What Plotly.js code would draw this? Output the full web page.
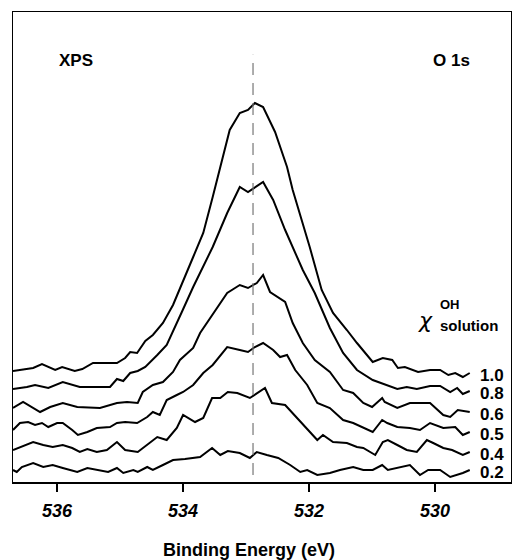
<!DOCTYPE html>
<html>
<head>
<meta charset="utf-8">
<script src="https://cdn.plot.ly/plotly-3.0.1.min.js"></script>
<style>
html,body{margin:0;padding:0;background:#fff;}
#chart{width:512px;height:560px;}
</style>
</head>
<body>
<div id="chart"></div>
<script>
// Binding energy (eV) and intensity (arb. units, already stacked) for each chi(OH, solution)
const seriesLabels = ['1.0', '0.8', '0.6', '0.5', '0.4', '0.2'];

const be10 = [536.70,536.38,536.24,536.03,535.92,535.72,535.60,535.43,535.05,534.92,534.84,534.73,534.60,534.48,534.32,534.16,533.84,533.68,533.53,533.26,533.10,532.97,532.86,532.73,532.54,532.35,532.26,531.99,531.80,531.62,531.40,531.24,530.99,530.83,530.68,530.59,530.48,530.27,530.08,529.92,529.79,529.68,529.56,529.45];
const int10 = [111,114,118,112,115,111,113,119,119,124,130,129,141,147,159,177,225,249,285,352,369,372,379,375,350,315,292,235,192,169,152,139,120,124,122,114,115,110,112,112,107,109,105,109];

const be08 = [536.70,536.48,536.35,536.14,535.91,535.64,535.16,535.05,534.95,534.84,534.72,534.60,534.41,534.26,534.02,533.84,533.53,533.30,533.10,532.97,532.73,532.57,532.38,532.26,532.10,531.91,531.78,531.67,531.46,531.24,530.99,530.83,530.60,530.45,530.29,530.08,529.92,529.76,529.65,529.56,529.45];
const int08 = [93,95,97,94,100,95,95,103,101,109,111,115,127,137,170,195,235,269,295,290,300,282,252,235,212,189,169,154,129,112,102,98,93,95,93,96,96,90,94,88,91];

const be06 = [536.70,536.54,536.27,536.11,535.91,535.68,535.32,535.05,534.89,534.72,534.64,534.48,534.32,534.16,534.05,533.84,533.73,533.54,533.30,533.10,532.97,532.83,532.73,532.62,532.38,532.26,532.10,531.91,531.67,531.46,531.30,531.14,531.00,530.84,530.80,530.60,530.40,530.08,529.87,529.76,529.64,529.45];
const int06 = [74,80,70,75,79,75,74,79,80,79,90,97,100,110,122,134,149,167,189,197,194,199,207,190,180,159,139,122,110,92,89,79,75,84,80,74,79,79,67,65,72,70];

const be05 = [536.70,536.59,536.46,536.35,536.24,536.14,536.00,535.91,535.76,535.67,535.52,535.37,535.16,535.05,534.92,534.73,534.57,534.48,534.37,534.26,534.10,534.00,533.84,533.68,533.53,533.30,533.10,532.97,532.86,532.73,532.57,532.46,532.35,532.22,532.03,531.87,531.67,531.46,531.30,531.14,530.99,530.84,530.76,530.60,530.40,530.24,530.08,529.87,529.68,529.56,529.45];
const int05 = [52,59,60,57,59,55,59,59,52,47,50,54,55,59,60,59,65,70,67,82,87,90,97,109,117,135,132,130,135,139,132,125,127,112,97,79,74,62,59,54,50,62,59,55,54,52,59,54,55,47,50];

const be04 = [536.70,536.59,536.38,536.22,536.07,535.91,535.76,535.64,535.52,535.37,535.21,535.05,534.92,534.72,534.57,534.41,534.26,534.10,534.00,533.81,533.68,533.54,533.41,533.29,533.14,532.94,532.70,532.59,532.38,532.19,532.03,531.87,531.78,531.62,531.40,531.24,531.14,530.95,530.83,530.75,530.60,530.45,530.29,530.13,530.03,529.87,529.73,529.56,529.45];
const int04 = [32,35,40,37,35,37,34,30,33,30,32,40,32,30,37,45,42,54,67,60,64,84,84,90,89,84,94,79,77,64,52,42,47,40,39,35,34,27,40,42,37,32,30,42,39,34,32,27,30];

const be02 = [536.70,536.64,536.56,536.38,536.22,536.07,535.91,535.68,535.52,535.37,535.19,535.05,534.95,534.79,534.72,534.57,534.48,534.32,534.16,533.97,533.73,533.54,533.41,533.29,533.10,532.94,532.83,532.67,532.49,532.30,532.14,532.03,531.87,531.67,531.51,531.30,531.14,530.99,530.84,530.75,530.60,530.40,530.24,530.11,529.92,529.76,529.56,529.45];
const int02 = [12,10,15,19,15,17,14,10,14,12,10,14,9,12,10,15,12,17,22,23,25,34,27,31,29,24,30,27,24,17,10,12,7,9,12,15,12,12,17,12,14,17,7,12,12,5,9,12];

const tickValues = [536, 534, 532, 530];
const tickLabels = ['536', '534', '532', '530'];
const peakEnergy = 532.89;

const xs = [be10, be08, be06, be05, be04, be02];
const ys = [int10, int08, int06, int05, int04, int02];

const FONT = 'Liberation Sans, Arial, Helvetica, sans-serif';

const traces = xs.map((x, i) => ({
  x: x, y: ys[i], type: 'scatter', mode: 'lines',
  line: {color: '#000', width: 2, shape: 'linear'},
  hoverinfo: 'skip', showlegend: false
}));

const annotations = seriesLabels.map((lab, i) => ({
  x: xs[i][xs[i].length - 1], y: ys[i][ys[i].length - 1],
  xref: 'x', yref: 'y', text: lab, showarrow: false,
  xanchor: 'left', yanchor: 'middle', xshift: 8, yshift: -2,
  font: {family: FONT, size: 17, color: '#000', weight: 'bold'}
}));

annotations.push(
  {xref: 'paper', yref: 'paper', x: 0.1265, y: 0.896, text: 'XPS', showarrow: false,
   xanchor: 'center', yanchor: 'middle', font: {family: FONT, size: 17, color: '#000', weight: 'bold'}},
  {xref: 'paper', yref: 'paper', x: 0.880, y: 0.896, text: 'O 1s', showarrow: false,
   xanchor: 'center', yanchor: 'middle', font: {family: FONT, size: 17, color: '#000', weight: 'bold'}},
  {xref: 'paper', yref: 'paper', x: 0.829, y: 0.343, text: 'χ', showarrow: false,
   xanchor: 'center', yanchor: 'middle', font: {family: 'DejaVu Sans, sans-serif', size: 22, color: '#000', style: 'italic'}},
  {xref: 'paper', yref: 'paper', x: 0.8775, y: 0.378, text: 'OH', showarrow: false,
   xanchor: 'center', yanchor: 'middle', font: {family: FONT, size: 13, color: '#000', weight: 'bold'}},
  {xref: 'paper', yref: 'paper', x: 0.916, y: 0.333, text: 'solution', showarrow: false,
   xanchor: 'center', yanchor: 'middle', font: {family: FONT, size: 15, color: '#000', weight: 'bold'}},
  {xref: 'paper', yref: 'paper', x: 0.474, y: 0, yshift: -68, text: 'Binding Energy (eV)', showarrow: false,
   xanchor: 'center', yanchor: 'middle', font: {family: FONT, size: 18, color: '#000', weight: 'bold'}}
);

const layout = {
  width: 512, height: 560,
  margin: {l: 13, r: 1, t: 12, b: 78, pad: 0},
  paper_bgcolor: '#fff', plot_bgcolor: '#fff',
  showlegend: false,
  xaxis: {
    range: [536.70, 528.795], showgrid: false, zeroline: false,
    showline: true, mirror: true, linecolor: '#000', linewidth: 1.5,
    ticks: 'outside', ticklen: 8, tickwidth: 1.5, tickcolor: '#000',
    tickvals: tickValues, ticktext: tickLabels, ticklabelstandoff: 4,
    tickfont: {family: FONT, size: 18, color: '#000', weight: 'bold', style: 'italic'}
  },
  yaxis: {
    range: [0, 470], showgrid: false, zeroline: false,
    showline: true, mirror: true, linecolor: '#000', linewidth: 1.5,
    showticklabels: false, ticks: ''
  },
  shapes: [{
    type: 'line', xref: 'x', yref: 'paper', x0: peakEnergy, x1: peakEnergy, y0: 0.015, y1: 0.909,
    line: {color: '#777', width: 1.2, dash: '12px,8px'}
  }],
  annotations: annotations
};

Plotly.newPlot('chart', traces, layout, {staticPlot: true, displayModeBar: false});
</script>
</body>
</html>
